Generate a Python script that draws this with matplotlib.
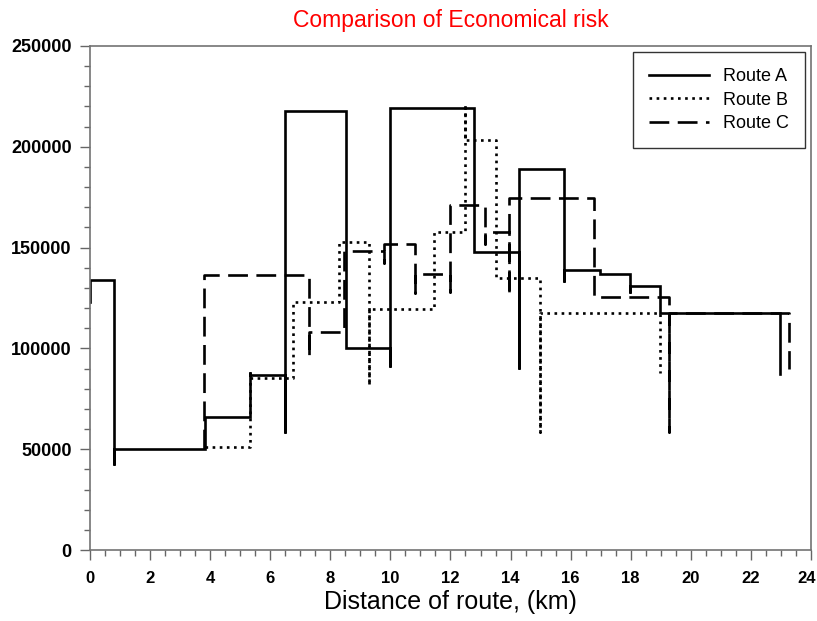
import matplotlib
matplotlib.use("Agg")
import matplotlib.pyplot as plt
from matplotlib.ticker import MultipleLocator, FuncFormatter

plt.rcParams['font.family'] = ['Liberation Sans', 'DejaVu Sans']

# step outlines (x in km, y in thousands)
route_a_x = [0, 0, 0.81, 0.81, 0.81, 3.83, 3.83, 5.33, 5.33, 5.33, 6.48, 6.48, 6.48,
             8.51, 8.51, 9.98, 9.98, 9.98, 12.78, 12.78, 14.28, 14.28, 14.28, 15.79,
             15.79, 15.79, 16.98, 16.98, 17.98, 17.98, 17.98, 18.99, 18.99, 22.98, 22.98]
route_a_y = [123, 134, 134, 42, 50, 50, 66, 66, 88.5, 87, 87, 58, 217.5,
             217.5, 100, 100, 90.6, 219, 219, 148, 148, 89.6, 189, 189,
             133, 138.7, 138.7, 137, 137, 127.3, 131, 131, 117.5, 117.5, 87.3]

route_b_x = [3.83, 5.33, 5.33, 6.77, 6.77, 8.29, 8.29, 9.28, 9.28, 9.28, 11.46,
             11.46, 12.48, 12.48, 12.48, 13.5, 13.5, 14.98, 14.98, 14.98, 18.97, 18.97]
route_b_y = [51.3, 51.3, 85.5, 85.5, 123.2, 123.2, 153, 153, 81.8, 119.5, 119.5,
             157.5, 157.5, 221, 203.6, 203.6, 134.8, 134.8, 58.7, 117.5, 117.5, 87.6]

route_c_x = [3.8, 3.8, 7.28, 7.28, 7.28, 8.45, 8.45, 9.78, 9.78, 9.78, 10.82, 10.82,
             10.82, 11.97, 11.97, 11.97, 13.16, 13.16, 13.16, 13.96, 13.96, 13.96,
             16.77, 16.77, 19.26, 19.26, 19.26, 23.26, 23.26]
route_c_y = [50, 136.4, 136.4, 96.3, 108.3, 108.3, 148.3, 148.3, 142.2, 151.7, 151.7,
             127.3, 137, 137, 128, 171.1, 171.1, 152, 157.5, 157.5, 126.5, 174.4,
             174.4, 125.6, 125.6, 58.7, 117.5, 117.5, 90]

labels = ["Route A", "Route B", "Route C"]
x_max = 24

fig = plt.figure(figsize=(8.17, 6.21), dpi=100)
ax = fig.add_axes([0.110, 0.1143, 0.8827, 0.8117])

lw = 1.9
ax.plot(route_a_x, [v * 1000 for v in route_a_y], color="black", lw=lw,
        solid_joinstyle="miter", label=labels[0])
ax.plot(route_b_x, [v * 1000 for v in route_b_y], color="black", lw=lw,
        linestyle=(0, (1.0, 1.7)), label=labels[1])
ax.plot(route_c_x, [v * 1000 for v in route_c_y], color="black", lw=lw,
        linestyle=(0, (7.5, 3.2)), label=labels[2])

ax.set_xlim(0, x_max)
ax.set_ylim(0, 250000)
ax.xaxis.set_major_locator(MultipleLocator(2))
ax.xaxis.set_minor_locator(MultipleLocator(0.5))
ax.yaxis.set_major_locator(MultipleLocator(50000))
ax.yaxis.set_minor_locator(MultipleLocator(10000))
# last x label is drawn separately so it is not cut at the canvas edge
ax.xaxis.set_major_formatter(FuncFormatter(lambda v, p: "" if v >= x_max else f"{v:g}"))
ax.tick_params(which="major", direction="out", length=7, width=1, color="0.4")
ax.tick_params(which="minor", direction="out", length=4, width=1, color="0.4")
ax.tick_params(axis="y", labelsize=13, pad=6)
ax.tick_params(axis="x", labelsize=12, pad=8)
for lab in ax.get_yticklabels() + ax.get_xticklabels():
    lab.set_fontweight("bold")
ax.annotate(f"{x_max}", xy=(x_max, 0), xycoords=("data", "axes fraction"),
            xytext=(-3.5, -15), textcoords="offset points", ha="center", va="top",
            fontsize=12, fontweight="bold")
for sp in ax.spines.values():
    sp.set_color("0.45")
    sp.set_linewidth(1.2)

ax.set_xlabel("Distance of route, (km)", fontsize=18, labelpad=3)
ax.set_title("Comparison of Economical risk", color="red", fontsize=16.5, pad=14)

leg = ax.legend(loc="upper right", bbox_to_anchor=(0.992, 0.988), fontsize=13,
                handlelength=3.3, frameon=True, fancybox=False, borderpad=0.9,
                labelspacing=0.35, handletextpad=0.8, borderaxespad=0)
leg.get_frame().set_edgecolor("black")
leg.get_frame().set_linewidth(1.0)

fig.savefig("out.png", dpi=100)
